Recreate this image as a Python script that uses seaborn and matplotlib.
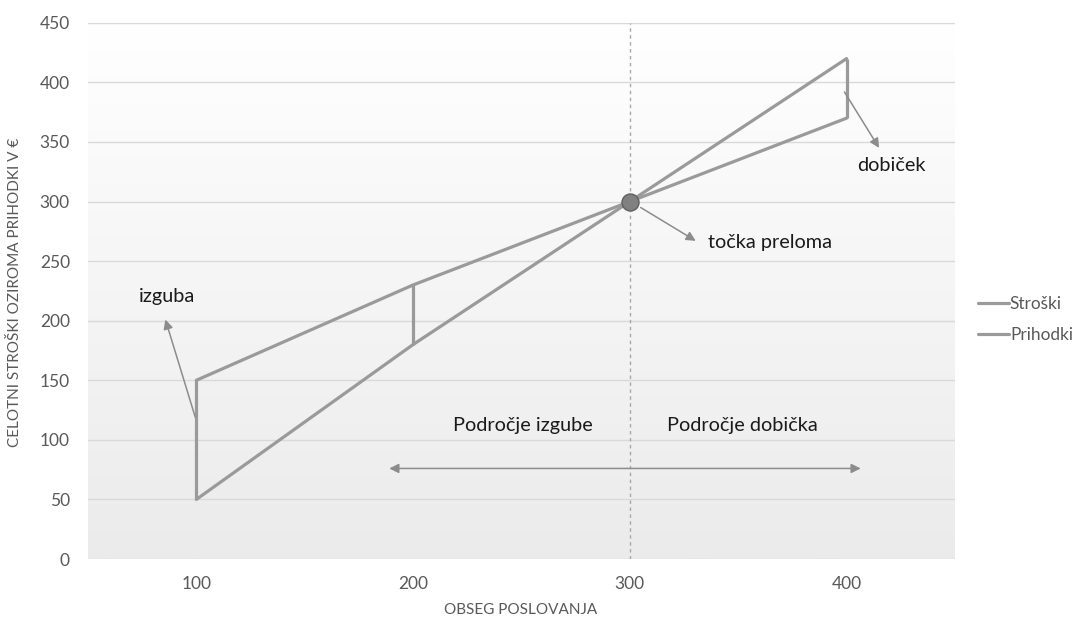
import numpy as np
import pandas as pd
import matplotlib
matplotlib.use("Agg")
import matplotlib.pyplot as plt
from matplotlib.colors import LinearSegmentedColormap
import seaborn as sns

# Break-even data
obseg = [100, 200, 300, 400]
stroski = [150, 230, 300, 370]
prihodki = [50, 180, 300, 420]
serije = ["Stroški", "Prihodki"]
y_ticks = [0, 50, 100, 150, 200, 250, 300, 350, 400, 450]
x_ticks = [100, 200, 300, 400]
tocka_preloma = (300, 300)

sns.set_theme(style="white")
plt.rcParams["font.family"] = ["Lato", "DejaVu Sans"]

df = pd.DataFrame({
    "obseg": obseg * 2,
    "vrednost": stroski + prihodki,
    "serija": [serije[0]] * len(obseg) + [serije[1]] * len(obseg),
})

LINE = "#9a9a9a"
TXT = "#595959"
DARK = "#1a1a1a"

fig = plt.figure(figsize=(10.73, 6.17), dpi=100)
ax = fig.add_axes([0.082, 0.094, 0.808, 0.869])

# soft vertical gradient behind the plot area: white on top, light grey at the bottom
grad = np.linspace(1, 0, 256).reshape(-1, 1)
cmap = LinearSegmentedColormap.from_list("bg", ["#ffffff", "#ebebeb"])
ax.imshow(grad, extent=[50, 450, 0, 450], aspect="auto", cmap=cmap,
          origin="lower", zorder=0, vmin=0, vmax=1)

sns.lineplot(data=df, x="obseg", y="vrednost", hue="serija",
             palette={serije[0]: LINE, serije[1]: LINE},
             linewidth=2.3, ax=ax, legend=False, zorder=3)

# vertical gaps between cost and revenue
for i in (0, 1, 3):
    ax.vlines(obseg[i], min(stroski[i], prihodki[i]), max(stroski[i], prihodki[i]),
              color=LINE, linewidth=2.3, zorder=3)

# break-even guide and point
ax.vlines(tocka_preloma[0], 0, 450, color="#a8a8a8", linewidth=1,
          linestyles=(0, (2.5, 2.5)), zorder=2)
ax.scatter([tocka_preloma[0]], [tocka_preloma[1]], s=150, color="#808080",
           edgecolor="#606060", linewidth=1, zorder=5)

ax.set_xlim(50, 450)
ax.set_ylim(0, 450)
ax.set_xticks(x_ticks)
ax.set_yticks(y_ticks)
ax.grid(axis="y", color="#d9d9d9", linewidth=1)
ax.grid(axis="x", visible=False)
ax.set_axisbelow(True)
for s in ax.spines.values():
    s.set_visible(False)
ax.tick_params(axis="y", length=0, pad=13, labelsize=12.5, labelcolor=TXT)
ax.tick_params(axis="x", length=0, pad=12, labelsize=12.5, labelcolor=TXT)
ax.set_xlabel("")
ax.set_ylabel("")

fig.text(521 / 1073, 1 - 610 / 617, "OBSEG POSLOVANJA", fontsize=11,
         color=TXT, ha="center", va="center")
fig.text(15 / 1073, 1 - 292 / 617, "CELOTNI STROŠKI OZIROMA PRIHODKI V €",
         fontsize=11, color=TXT, ha="center", va="center", rotation=90)

arrow = dict(arrowstyle="-|>", color="#8c8c8c", lw=1.1, mutation_scale=14,
             shrinkA=0, shrinkB=0)

ax.annotate("", xy=(85.7, 201), xytext=(99.5, 119), arrowprops=arrow, zorder=4)
ax.text(86.6, 220.6, "izguba", fontsize=14.3, color=DARK, ha="center", va="center")

ax.annotate("", xy=(330.4, 267), xytext=(305, 295), arrowprops=arrow, zorder=4)
ax.text(336, 266, "točka preloma", fontsize=14.3, color=DARK, ha="left", va="center")

ax.annotate("", xy=(415, 345), xytext=(399, 392), arrowprops=arrow, zorder=4)
ax.text(420.7, 330.6, "dobiček", fontsize=14.3, color=DARK, ha="center", va="center")

ax.annotate("", xy=(189, 76), xytext=(406.5, 76),
            arrowprops=dict(arrowstyle="<|-|>", color="#8c8c8c", lw=1.1,
                            mutation_scale=14, shrinkA=0, shrinkB=0), zorder=4)
ax.text(250.7, 112.4, "Področje izgube", fontsize=14.3, color=DARK, ha="center", va="center")
ax.text(352, 112.4, "Področje dobička", fontsize=14.3, color=DARK, ha="center", va="center")

handles = [plt.Line2D([], [], color=LINE, linewidth=2.3) for _ in serije]
fig.legend(handles, serije, loc="center left", bbox_to_anchor=(0.9115, 0.482),
           frameon=False, handlelength=1.8, handletextpad=0.05, labelspacing=0.9,
           borderpad=0, borderaxespad=0, fontsize=12.4, labelcolor=TXT)

fig.savefig("out.png", dpi=100)
